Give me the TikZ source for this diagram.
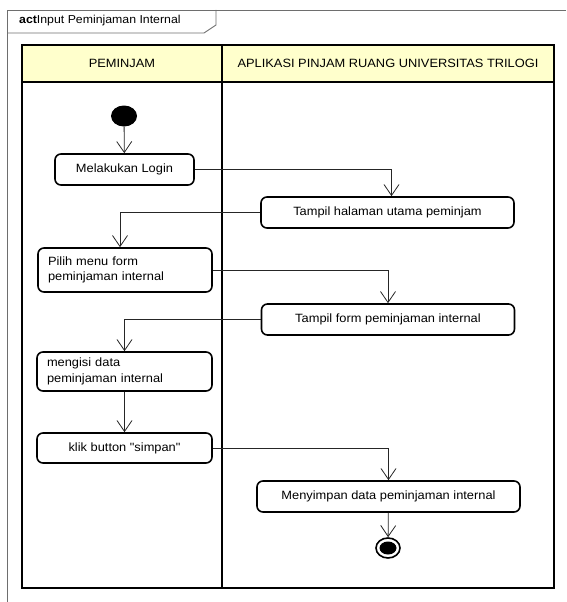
\documentclass[tikz,border=0pt]{standalone}
\usepackage{fontspec}
\setmainfont{Liberation Sans}[FakeStretch=1.07]
\newfontfamily\quotefont{Liberation Sans}[FakeStretch=1.07]
\usepackage{xcolor}
\usepackage{tikz}
\usetikzlibrary{arrows.meta,positioning,calc,shapes.geometric}

\definecolor{lanefill}{RGB}{255,255,204}
\definecolor{framegray}{RGB}{110,110,110}

\begin{document}
\begin{tikzpicture}[
  x=1pt, y=-1pt,
  action/.style={draw, line width=1.6pt, rounded corners=6pt, fill=white, minimum height=31pt, inner xsep=10pt, inner ysep=0pt, font=\fontsize{12}{15.5}\selectfont},
  lanehead/.style={draw, line width=2pt, fill=lanefill, minimum height=37pt, font=\fontsize{12}{14}\selectfont},
  initial/.style={ellipse, fill=black, minimum width=26pt, minimum height=21pt, inner sep=0pt},
  final/.style={ellipse, draw, line width=1.6pt, minimum width=24pt, minimum height=20pt, inner sep=0pt},
  >={Straight Barb[length=11pt,width=15pt]},
  flow/.style={->, line width=0.8pt, black!85}
]
  \useasboundingbox (0,0) rectangle (566,602);

  % Frame
  \draw[framegray, line width=0.9pt] (566,10) -- (7,10) -- (7,602);
  \draw[framegray, line width=0.9pt] (7,33) -- (204,33) -- (216,25) -- (216,10);
  \node[anchor=west, inner sep=0pt, font=\fontsize{11.5}{13}\selectfont] (title) at (19,21) {\textbf{act}Input Peminjaman Internal};

  % Lanes
  \node[lanehead, minimum width=200pt] (lane1) at (122,63.5) {PEMINJAM};
  \node[lanehead, minimum width=332pt] (lane2) at (388,63.5) {APLIKASI PINJAM RUANG UNIVERSITAS TRILOGI};
  \draw[line width=2pt] (22,82) rectangle (222,588);
  \draw[line width=2pt] (222,82) rectangle (554,588);

  % Start / end
  \node[initial] (start) at (124,116) {};
  \node[final] (stop) at (388,548) {};
  \node[initial, minimum width=17pt, minimum height=13pt] (stopdot) at (388,548) {};

  % PEMINJAM
  \node[action, minimum width=139pt] (login) at (124.5,169.5) {Melakukan Login};
  \node[action, minimum width=174pt, minimum height=44pt, text width=154pt, align=left] (pilih) at (125,270) {Pilih menu form\\peminjaman internal};
  \node[action, minimum width=175pt, minimum height=39pt, text width=155pt, align=left] (isi) at (124.5,371.5) {mengisi data\\peminjaman internal};
  \node[action, minimum width=175pt, minimum height=30pt] (klik) at (124.5,448) {klik button {\quotefont"}simpan{\quotefont"}};

  % APLIKASI
  \node[action, minimum width=253pt] (utama) at (387.5,212.5) {Tampil halaman utama peminjam};
  \node[action, minimum width=253pt] (form) at (388,319.5) {Tampil form peminjaman internal};
  \node[action, minimum width=263pt] (simpan) at (388.5,496.5) {Menyimpan data peminjaman internal};

  % Arrows
  \draw[flow] (start) -- (login);
  \draw[flow] (login.east) -| ([xshift=4pt]utama.north);
  \draw[flow] (utama.west) -| ([xshift=-5pt]pilih.north);
  \draw[flow] (pilih.east) -| (form.north);
  \draw[flow] (form.west) -| (isi.north);
  \draw[flow] (isi) -- (klik);
  \draw[flow] (klik.east) -| (simpan.north);
  \draw[flow] (simpan) -- (stop);
\end{tikzpicture}
\end{document}
